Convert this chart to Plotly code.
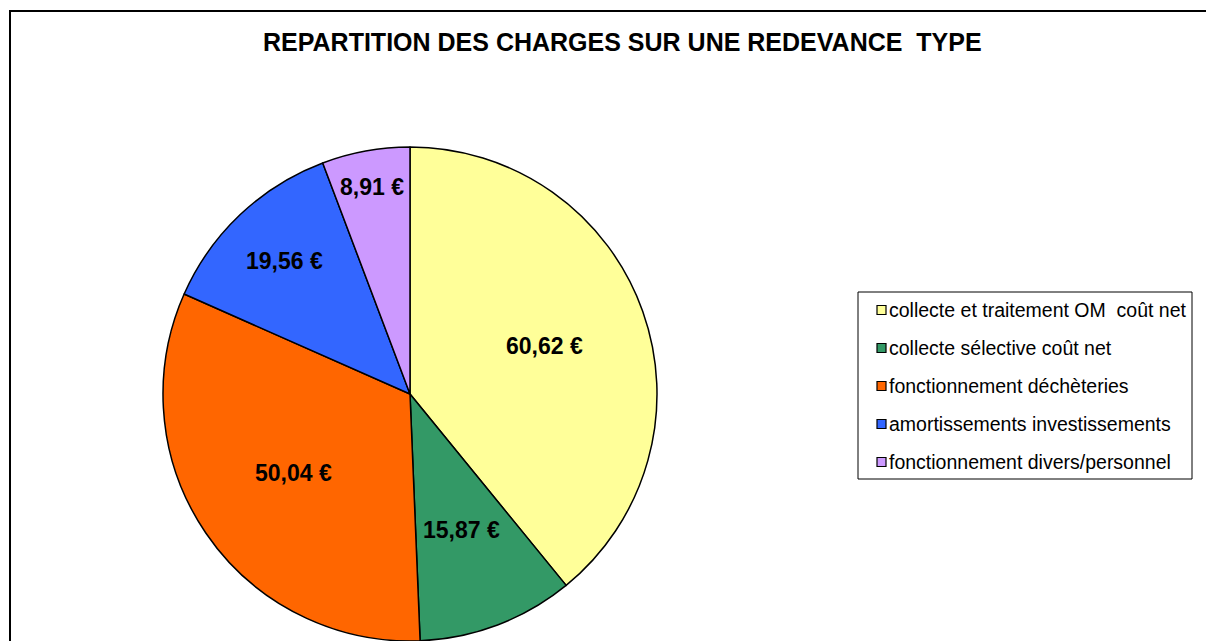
import math
import plotly.graph_objects as go

W, H = 1206, 641

title_text = "REPARTITION DES CHARGES SUR UNE REDEVANCE  TYPE"
labels = [
    "collecte et traitement OM  coût net",
    "collecte sélective coût net",
    "fonctionnement déchèteries",
    "amortissements investissements",
    "fonctionnement divers/personnel",
]
values = [60.62, 15.87, 50.04, 19.56, 8.91]
colors = ["#FFFF99", "#339966", "#FF6600", "#3366FF", "#CC99FF"]

# style: radial placement of the value labels (fraction of the radius)
label_radius = [0.58, 0.59, 0.57, 0.74, 0.85]

FONT = "Liberation Sans, Arial, sans-serif"


def fx(px):
    return px / W


def fy(py):
    return 1 - py / H


# pie geometry (pixels)
cx, cy, R = 410, 394, 247

fig = go.Figure()
fig.add_trace(go.Pie(
    labels=labels,
    values=values,
    sort=False,
    direction="clockwise",
    rotation=0,
    marker=dict(colors=colors, line=dict(color="black", width=1.5)),
    textinfo="none",
    domain=dict(x=[fx(cx - R), fx(cx + R)], y=[fy(cy + R), fy(cy - R)]),
    showlegend=False,
    hoverinfo="label+value+percent",
))

shapes = []
annotations = []

# value labels, placed at each slice's mid angle
total = sum(values)
cum = 0.0
for v, rf in zip(values, label_radius):
    mid = (cum + v / 2) / total * 2 * math.pi
    cum += v
    px = cx + rf * R * math.sin(mid)
    py = cy - rf * R * math.cos(mid)
    txt = f"{v:.2f}".replace(".", ",") + " €"
    annotations.append(dict(xref="paper", yref="paper", x=fx(px), y=fy(py),
                            xanchor="center", yanchor="middle", showarrow=False,
                            text=txt,
                            font=dict(family=FONT, size=23, color="black", weight="bold")))

# outer frame (only left and top visible in the reference)
shapes.append(dict(type="rect", xref="paper", yref="paper",
                   x0=fx(10), x1=fx(W + 20), y0=fy(H + 20), y1=fy(11),
                   line=dict(color="black", width=2), fillcolor="rgba(0,0,0,0)", layer="below"))

# legend box
lx0, lx1, ly0, ly1 = 858, 1192, 292, 479
shapes.append(dict(type="rect", xref="paper", yref="paper",
                   x0=fx(lx0), x1=fx(lx1), y0=fy(ly1), y1=fy(ly0),
                   line=dict(color="black", width=1), fillcolor="white"))

first_y, step = 310, 38
sq = 9
for i, (lab, col) in enumerate(zip(labels, colors)):
    yc = first_y + step * i
    shapes.append(dict(type="rect", xref="paper", yref="paper",
                       x0=fx(877), x1=fx(877 + sq), y0=fy(yc + sq / 2), y1=fy(yc - sq / 2),
                       line=dict(color="black", width=1.2), fillcolor=col))
    annotations.append(dict(xref="paper", yref="paper", x=fx(887), y=fy(yc),
                            xanchor="left", yanchor="middle", showarrow=False,
                            text=lab, font=dict(family=FONT, size=19.5, color="black")))

annotations.append(dict(xref="paper", yref="paper", x=fx(622), y=fy(42),
                        xanchor="center", yanchor="middle", showarrow=False,
                        text=title_text,
                        font=dict(family=FONT, size=25, color="black", weight="bold")))

fig.update_layout(
    width=W, height=H,
    margin=dict(l=0, r=0, t=0, b=0),
    paper_bgcolor="white",
    plot_bgcolor="white",
    separators=", ",
    shapes=shapes,
    annotations=annotations,
    font=dict(family=FONT),
)

fig.write_html("out.html", config={"displayModeBar": False},
               post_script="document.body.style.margin='0';")
